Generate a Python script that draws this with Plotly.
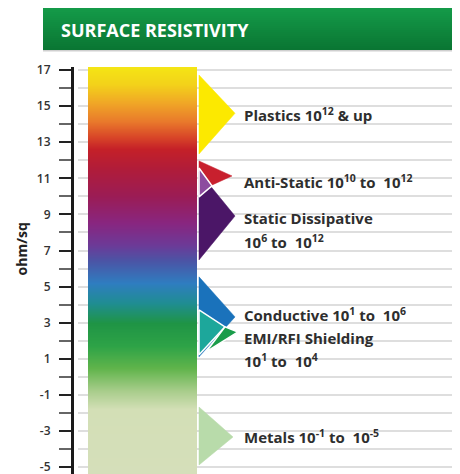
import plotly.graph_objects as go

# ---------------- data ----------------
# gradient stops of the resistivity bar (ohm/sq exponent -> colour)
grad_vals = [-5.4, -1.8, -0.8, 0.5, 1.7, 3.0, 4.1, 5.2, 6.4, 7.3, 8.5, 10.0, 11.5, 12.6, 13.3, 14.2, 15.2, 16.2, 17.2]
grad_cols = ["#d5dfba", "#d3dfb6", "#a9cd8c", "#60b44b", "#2ea347", "#1f9445", "#1f8d92", "#2f7dc0",
             "#4a55a6", "#6c3a97", "#882680", "#9b1c55", "#b01c3a", "#c42028", "#d84528", "#e97a2b",
             "#f0a826", "#f3d21a", "#f4e614"]

# triangle markers: values (ohm/sq exponent) of top, tip and bottom vertex
tri_names = ["Plastics", "Anti-Static", "Static Dissipative", "Overlap", "Conductive",
             "EMI/RFI Shielding A", "EMI/RFI Shielding B", "Metals"]
tri_top = [16.72, 11.96, 11.35, 11.57, 5.54, 3.71, 2.77, -1.67]
tri_tip = [14.60, 11.13, 8.91, 10.58, 3.32, 2.77, 2.49, -3.33]
tri_bot = [12.35, 10.30, 6.48, 9.97, 1.11, 1.22, 1.38, -4.88]

# category labels and their positions on the scale
label_texts = ["Plastics 10<sup>12</sup> & up",
               "Anti-Static 10<sup>10</sup> to  10<sup>12</sup>",
               "Static Dissipative",
               "10<sup>6</sup> to  10<sup>12</sup>",
               "Conductive 10<sup>1</sup> to  10<sup>6</sup>",
               "EMI/RFI Shielding",
               "10<sup>1</sup> to  10<sup>4</sup>",
               "Metals 10<sup>-1</sup> to  10<sup>-5</sup>"]
label_vals = [14.51, 10.85, 8.80, 7.52, 3.45, 2.13, 0.90, -3.30]

major_ticks = [-5, -3, -1, 1, 3, 5, 7, 9, 11, 13, 15, 17]
major_text = ["-5", "-3", "-1", "1", "3", "5", "7", "9", "11", "13", "15", "17"]
minor_ticks = [-4, -2, 0, 2, 4, 6, 8, 10, 12, 14, 16]
y_range = [-5.38, 17.166]

# ---------------- styles ----------------
OFF = 8                      # page body margin
W, H = 468, 474 - OFF
L, R, T, B = 72 - OFF, 0, 67 - OFF, 0
PW, PH = W - L - R, H - T - B

def px_x(px):                # page pixel -> paper x
    return (px - OFF - L) / PW

def px_y(py):                # page pixel -> paper y
    return (H - B - (py - OFF)) / PH

tri_cols = ["#fce900", "#c8202e", "#4b1667", "#8d4b9f", "#1a72bb", "#1da79b", "#1a9c4a", "#b8dbaa"]
tri_outline = [False, False, False, True, False, True, True, False]
# x page-pixel geometry of the three vertices
tri_x = [(199, 235, 199), (199, 232, 199), (199, 235, 199), (199, 212, 199), (199, 235, 199),
         (199, 225, 199), (225, 238, 206), (199, 233, 199)]

fig = go.Figure()

# gradient bar
lo, hi = min(grad_vals), max(grad_vals)
cscale = [[(v - lo) / (hi - lo), c] for v, c in zip(grad_vals, grad_cols)]
fig.add_trace(go.Heatmap(
    x=[88, 142.5, 197], y=grad_vals, z=[[v, v] for v in grad_vals],
    colorscale=cscale, zmin=lo, zmax=hi, zsmooth="best", showscale=False, hoverinfo="skip"))

# triangles
for i, name in enumerate(tri_names):
    xs = list(tri_x[i]) + [tri_x[i][0]]
    ys = [tri_top[i], tri_tip[i], tri_bot[i], tri_top[i]]
    fig.add_trace(go.Scatter(
        x=xs, y=ys, mode="lines", fill="toself", fillcolor=tri_cols[i],
        line=dict(color="white" if tri_outline[i] else tri_cols[i], width=1.5 if tri_outline[i] else 0.5),
        name=name, hoverinfo="skip"))

# labels
for txt, v in zip(label_texts, label_vals):
    fig.add_annotation(x=242, y=v, xref="x", yref="y", text=txt, showarrow=False,
                       xanchor="left", yanchor="middle",
                       font=dict(family="Open Sans", size=15, color="#2e2e2e", weight=700))

# title bar (vertical gradient)
top_c = (20, 154, 72)
bot_c = (10, 118, 51)
n = 21
for k in range(n):
    f = k / (n - 1)
    c = tuple(round(a + (b - a) * f) for a, b in zip(top_c, bot_c))
    y0 = 8 + k * 2
    fig.add_shape(type="rect", xref="paper", yref="paper",
                  x0=px_x(43), x1=px_x(476), y0=px_y(y0 + 2.2), y1=px_y(y0),
                  fillcolor="rgb(%d,%d,%d)" % c, line=dict(width=0), layer="above")
fig.add_shape(type="rect", xref="paper", yref="paper", x0=px_x(43), x1=px_x(476),
              y0=px_y(51.5), y1=px_y(50), fillcolor="#cfcfcf", line=dict(width=0))
fig.add_annotation(xref="paper", yref="paper", x=px_x(59), y=px_y(30), text="SURFACE RESISTIVITY",
                   showarrow=False, xanchor="left", yanchor="middle",
                   font=dict(family="Open Sans", size=18, color="white", weight=700))

# axis title
fig.add_annotation(xref="paper", yref="y", x=px_x(21), y=7.06, text="ohm/sq", textangle=-90,
                   showarrow=False, xanchor="center", yanchor="middle",
                   font=dict(family="Open Sans", size=14, color="#222", weight=700))

grid_c = "#dedede"
fig.update_layout(
    width=W, height=H, margin=dict(l=L, r=R, t=T, b=B, pad=0),
    paper_bgcolor="white", plot_bgcolor="white", showlegend=False,
    xaxis=dict(visible=False, domain=[6 / PW, 1], range=[78, 78 + PW - 6], fixedrange=True),
    yaxis=dict(range=y_range, anchor="free", position=0, tickmode="array", tickvals=major_ticks,
               ticktext=major_text, ticklabeloverflow="allow",
               ticks="outside", ticklen=12, tickwidth=2, tickcolor="#222",
               showline=True, linewidth=3, linecolor="#1a1a1a", zeroline=False,
               showgrid=True, gridcolor=grid_c, gridwidth=2, ticklabelstandoff=6,
               tickfont=dict(family="Open Sans", size=12, color="#333", weight=600),
               minor=dict(tickmode="array", tickvals=minor_ticks, ticks="outside", ticklen=12,
                          tickwidth=2, tickcolor="#666", showgrid=True, gridcolor=grid_c, gridwidth=2)),
)

fig.write_html("out.html")
